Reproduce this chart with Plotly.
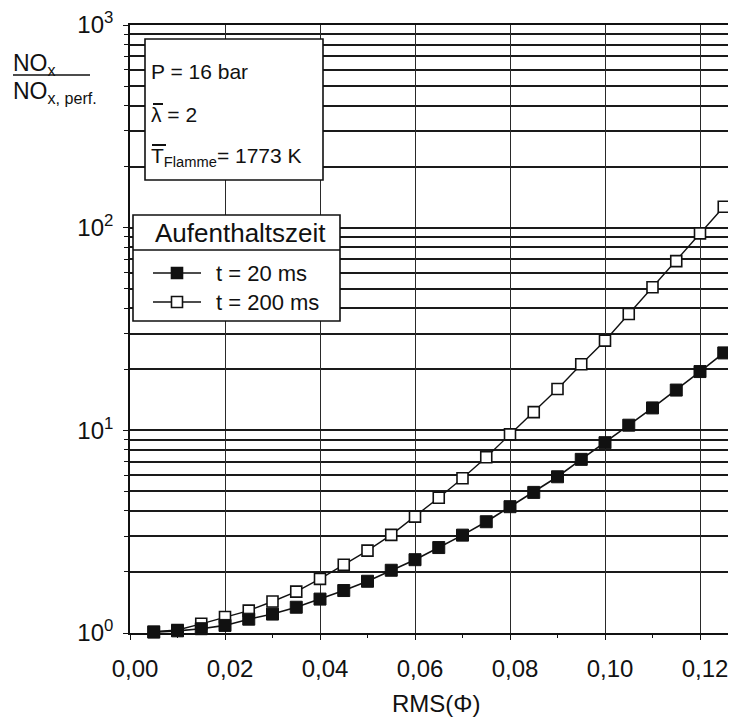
import plotly.graph_objects as go

# ---------------- data ----------------
rms_phi = [0.005, 0.010, 0.015, 0.020, 0.025, 0.030, 0.035, 0.040, 0.045, 0.050,
           0.055, 0.060, 0.065, 0.070, 0.075, 0.080, 0.085, 0.090, 0.095, 0.100,
           0.105, 0.110, 0.115, 0.120, 0.125]
nox_t20 = [1.01, 1.025, 1.05, 1.09, 1.17, 1.24, 1.34, 1.47, 1.62, 1.80,
           2.04, 2.30, 2.64, 3.04, 3.54, 4.20, 4.94, 5.90, 7.19, 8.69,
           10.6, 12.9, 15.8, 19.5, 24.1]
nox_t200 = [1.015, 1.035, 1.11, 1.20, 1.29, 1.43, 1.60, 1.85, 2.17, 2.55,
            3.05, 3.75, 4.65, 5.80, 7.36, 9.55, 12.3, 16.0, 21.2, 27.7,
            37.5, 50.8, 68.4, 93.7, 126.8]
series_names = ["t = 20 ms", "t = 200 ms"]
legend_title = "Aufenthaltszeit"
x_tick_vals = [0.00, 0.02, 0.04, 0.06, 0.08, 0.10, 0.12]
y_tick_vals = [1, 10, 100, 1000]
y_tick_text = ["10<sup>0</sup>", "10<sup>1</sup>", "10<sup>2</sup>", "10<sup>3</sup>"]
info_lines = ["P = 16 bar", "λ = 2", "T<sub>Flamme</sub>= 1773 K"]
x_title = "RMS(Φ)"
y_title_num = "NO<sub>x</sub>"
y_title_den = "NO<sub>x, perf.</sub>"

# ---------------- geometry (the page body adds an 8 px offset) ----------------
OFF = 8
W, H = 736 - OFF, 720 - OFF
L_SCR, T_SCR, B_SCR = 130, 25, 633          # plot edges on screen
L, T, B = L_SCR - OFF, T_SCR - OFF, B_SCR - OFF
PW, PH = W - L, B - T


def px(x):
    return (x - L_SCR) / PW


def py(y):
    return (B_SCR - y) / PH


FONT = "Liberation Sans, Arial, sans-serif"
INK = "#111111"

fig = go.Figure()

fig.add_trace(go.Scatter(
    x=rms_phi, y=nox_t200, name=series_names[1], mode="lines+markers",
    line=dict(color=INK, width=1.4),
    marker=dict(symbol="square", size=11, color="white",
                line=dict(color=INK, width=1.6)),
    cliponaxis=False, showlegend=False))
fig.add_trace(go.Scatter(
    x=rms_phi, y=nox_t20, name=series_names[0], mode="lines+markers",
    line=dict(color=INK, width=1.6),
    marker=dict(symbol="square", size=12, color=INK,
                line=dict(color=INK, width=1)),
    cliponaxis=False, showlegend=False))

shapes = []
annotations = []

# info box
shapes.append(dict(type="rect", xref="paper", yref="paper",
                   x0=px(145), x1=px(323), y0=py(180), y1=py(39),
                   fillcolor="white", line=dict(color=INK, width=1.6), layer="above"))
for txt, yy in zip(info_lines, [72, 114, 157]):
    annotations.append(dict(text=txt, xref="paper", yref="paper",
                            x=px(149), y=py(yy), xanchor="left", yanchor="middle",
                            showarrow=False, font=dict(family=FONT, size=21, color=INK)))
# overbars for mean quantities (lambda and T)
for x0, x1, yy in [(153, 163, 104), (152, 166, 145)]:
    shapes.append(dict(type="line", xref="paper", yref="paper",
                       x0=px(x0), x1=px(x1), y0=py(yy), y1=py(yy),
                       line=dict(color=INK, width=2), layer="above"))

# legend box (drawn by hand)
shapes.append(dict(type="rect", xref="paper", yref="paper",
                   x0=px(133), x1=px(340), y0=py(321), y1=py(215),
                   fillcolor="white", line=dict(color=INK, width=1.6), layer="above"))
shapes.append(dict(type="line", xref="paper", yref="paper",
                   x0=px(133), x1=px(340), y0=py(250), y1=py(250),
                   line=dict(color=INK, width=1.6), layer="above"))
annotations.append(dict(text=legend_title, xref="paper", yref="paper",
                        x=px(240), y=py(233), xanchor="center", yanchor="middle",
                        showarrow=False, font=dict(family=FONT, size=26, color=INK)))
for i, (name, yy) in enumerate(zip(series_names, [273, 302])):
    shapes.append(dict(type="line", xref="paper", yref="paper",
                       x0=px(153), x1=px(201), y0=py(yy), y1=py(yy),
                       line=dict(color=INK, width=1.6), layer="above"))
    shapes.append(dict(type="rect", xref="paper", yref="paper",
                       x0=px(171.5), x1=px(182.5), y0=py(yy + 5.5), y1=py(yy - 5.5),
                       fillcolor=INK if i == 0 else "white",
                       line=dict(color=INK, width=1.6), layer="above"))
    annotations.append(dict(text=name, xref="paper", yref="paper",
                            x=px(214), y=py(yy), xanchor="left", yanchor="middle",
                            showarrow=False, font=dict(family=FONT, size=22, color=INK)))

# y title as a fraction
annotations.append(dict(text=y_title_num, xref="paper", yref="paper",
                        x=px(11), y=py(64), xanchor="left", yanchor="middle",
                        showarrow=False, font=dict(family=FONT, size=23, color=INK)))
shapes.append(dict(type="line", xref="paper", yref="paper",
                   x0=px(13), x1=px(90), y0=py(75), y1=py(75),
                   line=dict(color=INK, width=1.4)))
annotations.append(dict(text=y_title_den, xref="paper", yref="paper",
                        x=px(11), y=py(92), xanchor="left", yanchor="middle",
                        showarrow=False, font=dict(family=FONT, size=23, color=INK)))

# x title
annotations.append(dict(text=x_title, xref="paper", yref="paper",
                        x=px(436), y=py(703), xanchor="center", yanchor="middle",
                        showarrow=False, font=dict(family=FONT, size=24, color=INK)))

fig.update_layout(
    width=W, height=H,
    margin=dict(l=L, r=0, t=T, b=H - B, pad=0),
    paper_bgcolor="white", plot_bgcolor="white",
    separators=",.",
    font=dict(family=FONT, size=22, color=INK),
    shapes=shapes, annotations=annotations,
    showlegend=False,
)
fig.update_xaxes(
    range=[0, PW / 4750.0], tickvals=x_tick_vals, tickformat=".2f",
    showgrid=True, gridcolor="#2a2a2a", gridwidth=1.2,
    showline=True, linecolor=INK, linewidth=1.6, mirror=True,
    ticks="outside", ticklen=5, tickcolor=INK,
    ticklabelshift=5, ticklabelstandoff=8, ticklabeloverflow="allow",
    minor=dict(dtick=0.01, ticks="outside", ticklen=3, tickcolor=INK, showgrid=False),
    zeroline=False, tickfont=dict(size=24), automargin=False,
)
fig.update_yaxes(
    type="log", range=[0, 3], tickvals=y_tick_vals, ticktext=y_tick_text,
    showgrid=True, gridcolor="#1a1a1a", gridwidth=1.6,
    showline=True, linecolor=INK, linewidth=1.6,
    ticks="outside", ticklen=5, tickcolor=INK, ticklabelstandoff=5,
    ticklabeloverflow="allow",
    minor=dict(dtick="D1", showgrid=True, gridcolor="#1a1a1a", gridwidth=1.6,
               ticks="outside", ticklen=4, tickcolor=INK),
    zeroline=False, tickfont=dict(size=24), automargin=False,
)

fig.write_html("out.html")
